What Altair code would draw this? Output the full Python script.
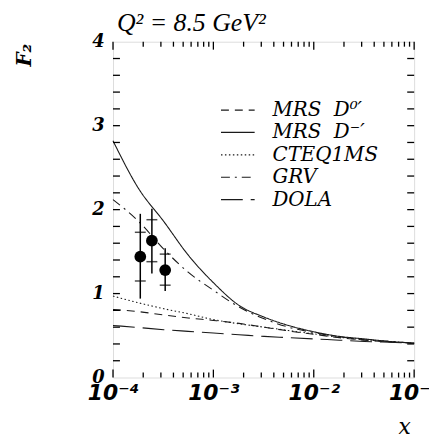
import altair as alt
import pandas as pd

# ---------------- data ----------------
x_grid = [0.0001, 0.00018, 0.00032, 0.00056, 0.001, 0.0018, 0.0032,
          0.0056, 0.01, 0.018, 0.032, 0.056, 0.1]

mrs_d0 = [0.81, 0.785, 0.745, 0.71, 0.68, 0.645, 0.60, 0.555, 0.515, 0.475, 0.445, 0.425, 0.41]
mrs_dm = [2.82, 2.25, 1.86, 1.46, 1.13, 0.86, 0.72, 0.62, 0.545, 0.49, 0.46, 0.43, 0.41]
cteq = [0.97, 0.89, 0.82, 0.76, 0.69, 0.64, 0.60, 0.56, 0.52, 0.48, 0.45, 0.43, 0.41]
grv = [2.12, 1.86, 1.53, 1.255, 1.04, 0.84, 0.70, 0.60, 0.535, 0.485, 0.45, 0.43, 0.41]
dola = [0.62, 0.595, 0.57, 0.55, 0.53, 0.51, 0.49, 0.475, 0.46, 0.445, 0.43, 0.42, 0.41]

series_names = ["MRS\u00a0\u00a0D\u2070\u2032", "MRS\u00a0\u00a0D\u207b\u2032",
                "CTEQ1MS", "GRV", "DOLA"]
series_dash = [[8, 6], [1, 0], [1.5, 2.5], [9, 5, 2, 5], [22, 8]]

pt_x = [0.000187, 0.000244, 0.000331]
pt_y = [1.44, 1.63, 1.28]
stat_lo = [1.15, 1.38, 1.10]
stat_hi = [1.73, 1.88, 1.47]
tot_lo = [0.94, 1.24, 1.03]
tot_hi = [1.95, 2.01, 1.54]

x_major = [0.0001, 0.001, 0.01, 0.1]
x_minor = [m * 10.0 ** e for e in (-4, -3, -2) for m in range(2, 10)]
y_ticks = [round(0.2 * i, 1) for i in range(1, 20)]
y_labels = [0, 1, 2, 3, 4]

# ---------------- tables ----------------
rows = []
for name, vals in zip(series_names, [mrs_d0, mrs_dm, cteq, grv, dola]):
    for xv, yv in zip(x_grid, vals):
        rows.append({"x": xv, "y": yv, "series": name})
curves = pd.DataFrame(rows)

points = pd.DataFrame({"x": pt_x, "y": pt_y, "slo": stat_lo, "shi": stat_hi,
                       "tlo": tot_lo, "thi": tot_hi})
stat_ends = pd.DataFrame({"x": pt_x + pt_x, "y": stat_lo + stat_hi})
xmaj = pd.DataFrame({"x": x_major})
xmin = pd.DataFrame({"x": x_minor})
ytk = pd.DataFrame({"y": y_ticks})

W, H = 304, 339

xscale = alt.Scale(type="log", domain=[0.0001, 0.1], nice=False)
yscale = alt.Scale(domain=[0, 4], nice=False, zero=False)

label_expr = ("datum.value < 0.0005 ? '10\u207b\u2074' : datum.value < 0.005 ? '10\u207b\u00b3' : "
              "datum.value < 0.05 ? '10\u207b\u00b2' : '10\u207b\u00b9'")

xaxis = alt.Axis(values=x_major, labelExpr=label_expr, title="x", ticks=False, domain=False,
                 grid=False, labelFont="DejaVu Sans", labelFontWeight="bold",
                 labelFontStyle="italic", labelFontSize=22, labelPadding=5,
                 labelBaseline="top", labelColor="black", labelFlush=False,
                 labelOverlap=False, titleFont="DejaVu Serif", titleFontStyle="italic",
                 titleFontWeight="normal", titleFontSize=22, titleColor="black",
                 titleX=294, titleY=57, titleBaseline="alphabetic", titleAlign="center")
yaxis = alt.Axis(values=y_labels, format="d", title="F\u2082", ticks=False, domain=False,
                 grid=False, labelFont="DejaVu Serif", labelFontWeight="bold",
                 labelFontStyle="italic", labelFontSize=18, labelPadding=9,
                 labelColor="black", labelFlush=False, titleFont="DejaVu Serif",
                 titleFontStyle="italic", titleFontWeight="bold", titleFontSize=20,
                 titleColor="black", titleX=-89, titleY=13, titleAngle=270,
                 titleAlign="center", titleBaseline="middle")


def X(f):
    return alt.X(f, type="quantitative", scale=xscale, axis=xaxis)


def Y(f):
    return alt.Y(f, type="quantitative", scale=yscale, axis=yaxis)


lines = alt.Chart(curves).mark_line(color="#1a1a1a", strokeWidth=1.1, interpolate="monotone").encode(
    x=X("x"), y=Y("y"),
    strokeDash=alt.StrokeDash(
        "series:N",
        scale=alt.Scale(domain=series_names, range=series_dash),
        legend=alt.Legend(title=None, orient="none", legendX=108, legendY=60,
                          symbolType="stroke", symbolSize=1156, symbolStrokeWidth=1.2,
                          symbolStrokeColor="#1a1a1a", labelFont="DejaVu Serif",
                          labelFontStyle="italic", labelFontSize=20, labelColor="black",
                          labelOffset=17, rowPadding=2.6, clipHeight=18, padding=0,
                          labelLimit=0),
    ),
)

err = alt.Chart(points).mark_rule(color="black", strokeWidth=1.5).encode(
    x=X("x"), y=Y("tlo"), y2="thi")
caps = alt.Chart(stat_ends).mark_tick(color="black", orient="horizontal", size=11,
                                      thickness=1.5).encode(x=X("x"), y=Y("y"))
dots = alt.Chart(points).mark_circle(color="black", opacity=1, size=140).encode(
    x=X("x"), y=Y("y"))

bot_maj = alt.Chart(xmaj).mark_rule(color="black", strokeWidth=1.3).encode(
    x=X("x"), y=alt.value(H), y2=alt.value(H - 8))
bot_min = alt.Chart(xmin).mark_rule(color="black", strokeWidth=1.3).encode(
    x=X("x"), y=alt.value(H), y2=alt.value(H - 5))
top_maj = alt.Chart(xmaj).mark_rule(color="black", strokeWidth=1.3).encode(
    x=X("x"), y=alt.value(0), y2=alt.value(8))
top_min = alt.Chart(xmin).mark_rule(color="black", strokeWidth=1.3).encode(
    x=X("x"), y=alt.value(0), y2=alt.value(5))
left_t = alt.Chart(ytk).mark_rule(color="black", strokeWidth=1.3).encode(
    y=Y("y"), x=alt.value(0), x2=alt.value(7))
right_t = alt.Chart(ytk).mark_rule(color="black", strokeWidth=1.3).encode(
    y=Y("y"), x=alt.value(W), x2=alt.value(W - 7))

chart = alt.layer(
    lines, err, caps, dots, bot_maj, bot_min, top_maj, top_min, left_t, right_t
).properties(
    width=W, height=H,
    autosize=alt.AutoSizeParams(type="none"),
    padding={"left": 106, "top": 32, "right": 15, "bottom": 59},
    title=alt.TitleParams(text="Q\u00b2 = 8.5 GeV\u00b2", anchor="start", frame="group",
                          offset=1, dx=4, dy=25, font="Liberation Serif", fontStyle="italic",
                          fontSize=26, fontWeight="normal", color="black",
                          baseline="alphabetic"),
).configure_view(stroke="black", strokeWidth=2).configure(background="white")

chart.save("out.html", embed_options={"renderer": "svg", "actions": False})
